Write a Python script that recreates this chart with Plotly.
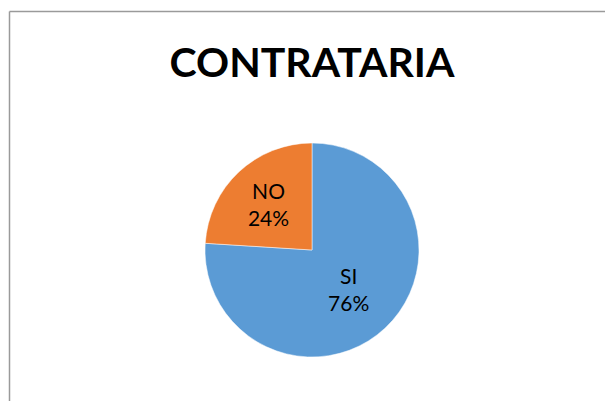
import plotly.graph_objects as go

labels = ["SI", "NO"]
values = [76, 24]
colors = ["#5B9BD5", "#ED7D31"]

W, H = 605, 401

fig = go.Figure()

fig.add_trace(go.Pie(
    labels=labels,
    values=values,
    sort=False,
    direction="clockwise",
    rotation=0,
    marker=dict(colors=colors, line=dict(color="white", width=0.5)),
    textinfo="label+percent",
    textposition="inside",
    insidetextorientation="horizontal",
    textfont=dict(family="Lato", size=21, color="black"),
    domain=dict(x=[204 / W, 420 / W], y=[44 / H, 258 / H]),
    showlegend=False,
    hoverinfo="label+percent",
))

# chart frame (left and top edges visible)
fig.add_shape(type="line", xref="paper", yref="paper",
              x0=9.5 / W, x1=1, y0=1 - 11.5 / H, y1=1 - 11.5 / H,
              line=dict(color="#9a9a9a", width=1.5))
fig.add_shape(type="line", xref="paper", yref="paper",
              x0=9.5 / W, x1=9.5 / W, y0=0, y1=1 - 11.5 / H,
              line=dict(color="#9a9a9a", width=1.5))

fig.update_layout(
    title=dict(text="<b>CONTRATARIA</b>", x=312 / W, xanchor="center",
               y=1 - 63 / H, yanchor="middle",
               font=dict(family="Lato", size=41, color="black")),
    width=W,
    height=H,
    margin=dict(l=0, r=0, t=0, b=0),
    paper_bgcolor="white",
    plot_bgcolor="white",
)

fig.write_html("out.html",
               config={"displayModeBar": False},
               post_script="document.body.style.margin='0';"
                           "document.body.style.overflow='hidden';")
